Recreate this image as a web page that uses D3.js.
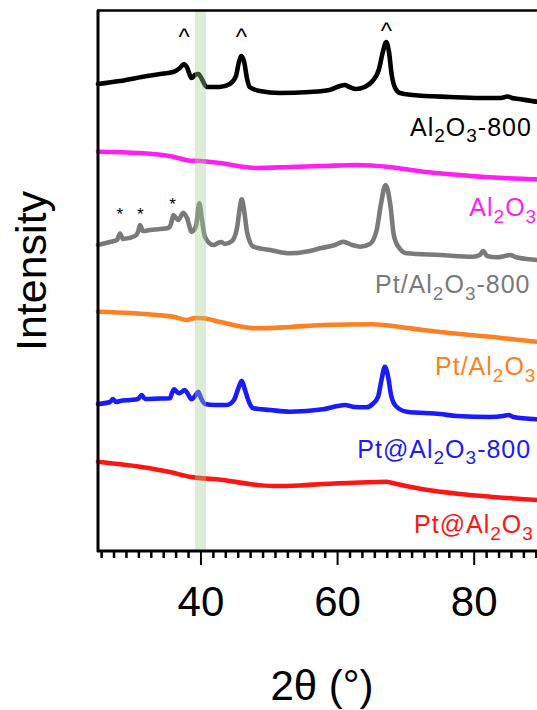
<!DOCTYPE html>
<html>
<head>
<meta charset="utf-8">
<script src="https://cdn.jsdelivr.net/npm/d3@7"></script>
<style>
  body { margin: 0; background: #fff; }
  text { font-family: "Liberation Sans", Arial, sans-serif; }
</style>
</head>
<body>
<div id="chart"></div>
<script>
// XRD patterns, 2theta (deg) vs intensity (a.u., offset stacked)
const al2o3_800 = [[25,468],[28.2,471],[32.2,476],[34.1,478],[36.0,480],[37.0,484],[37.6,488],[38.0,485],[38.7,474],[39.2,477],[39.7,478],[40.2,473],[40.9,465],[42.8,465],[44.3,468],[45.2,476],[45.6,489],[46.0,496],[46.4,490],[46.8,474],[47.2,465],[48.7,461],[51.6,459],[56.0,460],[58.9,462],[60.4,466],[61.1,467],[61.8,465],[62.8,463],[64.0,465],[65.2,471],[66.1,482],[66.7,500],[67.2,510],[67.6,500],[68.0,477],[68.5,464],[69.2,459],[71.1,457],[76.5,455],[80.9,454],[83.8,454],[84.6,455],[85.0,455.5],[85.6,454],[86.7,453],[89.3,450.3],[90,450]];
const al2o3 = [[25,400.3],[31.1,399],[36.0,395.3],[38.5,391.3],[39.9,391],[42.8,389],[48.2,384],[53.1,385],[57.9,386],[62.8,387],[67.7,385],[72.6,380.3],[77.9,377],[82.4,374.7],[89.3,372.7],[90,372.5]];
const pt_al2o3_800 = [[25,307],[26.76,310],[27.78,312],[28.22,318.5],[28.66,313],[30.42,316],[30.86,320],[31.15,327],[31.59,321],[32.61,322],[34.08,323],[35.25,324],[35.69,328],[36.02,337],[36.42,334],[36.76,332],[37.49,339.3],[38.03,334],[38.72,320.3],[39.35,326],[39.83,348.7],[40.23,332],[40.66,315],[41.88,307],[42.57,309],[43.0,310],[43.59,308],[44.62,311],[45.35,324],[45.72,342],[46.04,352.7],[46.38,342],[46.82,320],[47.74,305.3],[50.2,302],[53.1,298.7],[56.0,301],[57.5,303.7],[59.7,307],[60.9,310.3],[62.2,307],[63.4,305.3],[64.8,308],[65.8,322],[66.4,347],[67.1,367],[67.8,347],[68.3,317],[69.1,304],[70.2,298.7],[75.1,297],[79.9,295.3],[80.9,297],[81.4,301],[81.95,296],[83.4,294.7],[84.6,296],[85.35,297],[86.1,295],[89.3,292],[90,291.5]];
const pt_al2o3 = [[25,240.3],[29.7,239],[33.6,237],[36.2,235],[38.0,232],[39.2,234],[40.4,233.7],[42.9,230],[48.2,223.7],[53.1,225],[57.9,227],[65.2,227.7],[69.2,225],[72.6,222],[78.0,218],[82.4,215.3],[89.3,210.3],[90,210]];
const pt_at_al2o3_800 = [[25,148],[26.76,150],[27.2,153],[27.64,150],[28.22,151],[29.68,152],[30.86,153],[31.4,157],[31.88,153],[34.08,153.5],[35.54,153.7],[35.83,159],[36.13,162.7],[36.56,160],[36.9,158.7],[37.72,162],[38.16,158],[38.7,152.7],[39.2,156],[39.68,160.3],[40.07,154],[40.66,148],[42.1,147],[43.84,147],[44.9,152],[45.56,164],[46.04,171.3],[46.52,162],[47.1,150],[47.74,143.7],[50.2,142],[53.1,140.3],[57.99,142.7],[60.1,146],[61.1,147],[62.6,145],[64.3,144.7],[65.2,148],[66.0,155.3],[66.5,172],[67.0,185.3],[67.5,174],[67.9,157],[68.6,146],[70.2,140.3],[75.1,138],[77.5,136],[82.4,135],[84.3,136],[85.1,137],[85.8,135],[89.3,132.7],[90,132.5]];
const pt_at_al2o3 = [[25,90.3],[31.15,85.3],[35.5,80],[38.4,75.3],[43.3,72],[47.2,68],[50.6,66],[54.5,66.5],[58.0,68],[63.3,69.5],[67.3,70.3],[67.8,69.5],[72.6,62.7],[78.0,58],[82.4,55.3],[89.3,52],[90,51.7]];

const seriesData = [al2o3_800, al2o3, pt_al2o3_800, pt_al2o3, pt_at_al2o3_800, pt_at_al2o3];
const seriesNames = ["Al2O3-800", "Al2O3", "Pt/Al2O3-800", "Pt/Al2O3", "Pt@Al2O3-800", "Pt@Al2O3"];
const seriesColors = ["#000000", "#ff1ff0", "#7a7a7a", "#ff8022", "#1a1aff", "#ff1414"];
// label start (2theta, intensity) for each curve name
const labelTheta = [70.68, 79.36, 65.56, 74.34, 62.96, 71.27];
const labelY = [416.3, 336, 258.7, 177, 94.3, 18.7];

// reflection markers
const caretTheta = [37.6, 46.0, 67.2];
const caretY = [519, 519, 525];
const starTheta = [28.2, 31.2, 35.9];
const starY = [342, 342, 352];

// shaded band
const band = [39.2, 40.8];
const majorTicks = [40, 60, 80];

const W = 537, H = 710;
const svg = d3.select("#chart").append("svg")
  .attr("width", W).attr("height", H);

const x = d3.scaleLinear().domain([25, 90]).range([98, 542]);
const y = d3.scaleLinear().domain([0, 542]).range([552, 10]);

const line = d3.line()
  .x(d => x(d[0]))
  .y(d => y(d[1]))
  .curve(d3.curveMonotoneX);

// curves
svg.append("g")
  .selectAll("path")
  .data(seriesData).enter()
  .append("path")
  .attr("d", line)
  .attr("fill", "none")
  .attr("stroke", (d, i) => seriesColors[i])
  .attr("stroke-width", 4.6)
  .attr("stroke-linejoin", "round")
  .attr("stroke-linecap", "round");

// green band on top
svg.append("rect")
  .attr("x", x(band[0]))
  .attr("width", x(band[1]) - x(band[0]))
  .attr("y", y(542))
  .attr("height", y(0) - y(542))
  .attr("fill", "rgb(165,205,145)")
  .attr("fill-opacity", 0.38);

// labels with subscripts (digit right after a letter)
function addLabel(sel, name) {
  const parts = name.split(/(?<=[A-Za-z])(\d)/);
  let prevSub = false;
  for (let k = 0; k < parts.length; k++) {
    const p = parts[k];
    if (p === "") continue;
    const isSub = k % 2 === 1;
    const t = sel.append("tspan").text(p);
    if (isSub) {
      t.attr("font-size", 19).attr("dy", prevSub ? 0 : 6.6);
    } else if (prevSub) {
      t.attr("dy", -6.6);
    }
    prevSub = isSub;
  }
}

seriesNames.forEach((name, i) => {
  const t = svg.append("text")
    .attr("x", x(labelTheta[i]))
    .attr("y", y(labelY[i]))
    .attr("font-size", 25)
    .attr("letter-spacing", 1)
    .attr("fill", seriesColors[i]);
  addLabel(t, name);
});

// markers
svg.append("g").selectAll("text")
  .data(caretTheta).enter()
  .append("text")
  .attr("x", d => x(d))
  .attr("y", (d, i) => y(caretY[i]) + 12)
  .attr("text-anchor", "middle")
  .attr("font-size", 24)
  .text("^");

svg.append("g").selectAll("text")
  .data(starTheta).enter()
  .append("text")
  .attr("x", d => x(d))
  .attr("y", (d, i) => y(starY[i]) + 10)
  .attr("text-anchor", "middle")
  .attr("font-size", 17)
  .text("*");

// frame
svg.append("line")
  .attr("x1", 98).attr("x2", 98).attr("y1", 10).attr("y2", 552)
  .attr("stroke", "#000").attr("stroke-width", 3);
svg.append("line")
  .attr("x1", 97).attr("x2", 545).attr("y1", 10.5).attr("y2", 10.5)
  .attr("stroke", "#000").attr("stroke-width", 2.5);

// X axis: minor ticks then major ticks
const minor = d3.range(40 - 8 * 20 / 11, 91, 20 / 11).filter(v => v >= 25 && !majorTicks.some(m => Math.abs(m - v) < 0.01));
const gMinor = svg.append("g")
  .attr("transform", "translate(0," + 551 + ")")
  .call(d3.axisBottom(x).tickValues(minor).tickSize(7).tickFormat(""));
gMinor.select(".domain").remove();
gMinor.selectAll("line").attr("stroke-width", 2.5);

const gx = svg.append("g")
  .attr("transform", "translate(0," + 551 + ")")
  .call(d3.axisBottom(x).tickValues(majorTicks).tickSize(14).tickPadding(21).tickSizeOuter(0));
gx.select(".domain").attr("stroke-width", 3).attr("d", "M97,0H545");
gx.selectAll("line").attr("stroke-width", 2);
gx.selectAll("text")
  .attr("font-size", 42)
  .attr("font-family", "'Liberation Sans', Arial, sans-serif")
  .attr("fill", "#000");

// axis titles
svg.append("text")
  .attr("x", 322).attr("y", 700)
  .attr("text-anchor", "middle")
  .attr("font-size", 42)
  .text("2θ (°)");

svg.append("text")
  .attr("transform", "translate(46,271) rotate(-90)")
  .attr("text-anchor", "middle")
  .attr("font-size", 43)
  .text("Intensity");
</script>
</body>
</html>
